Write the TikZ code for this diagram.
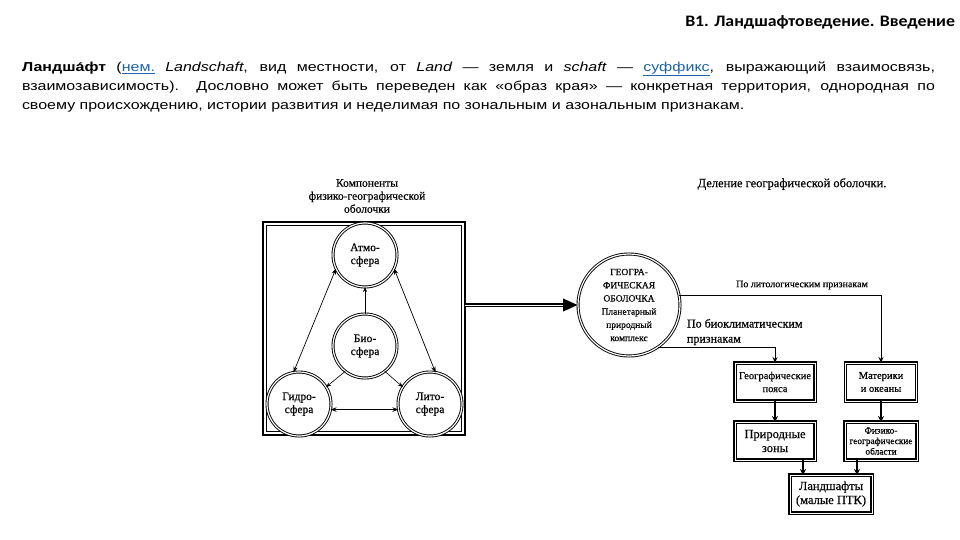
\documentclass[tikz,border=0pt]{standalone}
\usepackage{fontspec}
\setmainfont{Liberation Sans}
\newfontfamily\parafont[FakeStretch=1.23]{Liberation Sans}
\newfontfamily\titlefont[FakeStretch=1.11]{Carlito}
\newfontfamily\figfont[FakeBold=0.4]{Liberation Serif}
\usetikzlibrary{arrows.meta,calc}
\definecolor{linkblue}{RGB}{30,100,170}
\newcommand\jline[1]{\hbox to 913pt{#1}}
\newcommand\lnk[1]{\leavevmode\textcolor{linkblue}{\vtop{\hbox{#1}\kern0.8pt\hrule height0.7pt}}}
\begin{document}
\begin{tikzpicture}[x=1pt,y=-1pt,
  every node/.style={inner sep=0pt, outer sep=0pt},
  para/.style={anchor=base west, font=\parafont\fontsize{13}{15}\selectfont},
  fig/.style={font=\figfont\fontsize{11.5}{13}\selectfont, align=center},
  circ/.style={fig, circle, draw, fill=white, line width=0.9pt, double, double distance=1.2pt, minimum size=64pt},
  bigcirc/.style={fig, circle, draw, fill=white, line width=0.9pt, double, double distance=1.2pt, minimum size=102pt, font=\figfont\fontsize{9.5}{13.2}\selectfont},
  box/.style={fig, draw, fill=white, line width=1.2pt, double, double distance=1pt, minimum height=38pt},
  thin/.style={line width=0.7pt, {Stealth[length=6pt,width=4.5pt]}-{Stealth[length=6pt,width=4.5pt]}},
  onearrow/.style={line width=0.6pt, -{Stealth[length=5pt,width=4pt]}},
  conn/.style={line width=1pt, -{Stealth[length=6pt,width=5pt]}},
  boxarrow/.style={line width=1.8pt, -{Stealth[length=6pt,width=6pt]}},
  lbl/.style={font=\figfont\fontsize{10}{13}\selectfont}
]
\useasboundingbox (0,0) rectangle (960,540);
\fill[white] (0,0) rectangle (960,540);

% header
\node[anchor=base east, font=\titlefont\bfseries\fontsize{16}{18}\selectfont] (title) at (955,27) {B1. Ландшафтоведение. Введение};

% paragraph
\node[para] (p1) at (22,72) {\jline{\textbf{Ландша́фт} (\lnk{нем.} \textit{Landschaft}, вид местности, от \textit{Land} — земля и \textit{schaft} — \lnk{суффикс}, выражающий взаимосвязь,}};
\node[para] (p2) at (22,91) {\jline{взаимозависимость). Дословно может быть переведен как «образ края» — конкретная территория, однородная по}};
\node[para] (p3) at (22,110) {своему происхождению, истории развития и неделимая по зональным и азональным признакам.};

% left block
\node[fig] (comp) at (367,196) {Компоненты\\физико-географической\\оболочки};
\draw[line width=1.8pt] (263,222) rectangle (465,435);
\draw[line width=0.7pt] (266.5,225.5) rectangle (461.5,431.5);

\node[circ] (atmo) at (365,255) {Атмо-\\сфера};
\node[circ] (bio) at (365,346) {Био-\\сфера};
\node[circ] (hydro) at (299,404) {Гидро-\\сфера};
\node[circ] (lito) at (430,404) {Лито-\\сфера};

\draw[thin] (atmo.205) -- (hydro.100);
\draw[thin] (atmo.-25) -- (lito.80);
\draw[onearrow] (bio.north) -- (atmo.south);
\draw[onearrow] (bio.232) -- (hydro.32);
\draw[onearrow] (bio.-52) -- (lito.148);
\draw[thin, line width=1.4pt] (hydro.-10) -- (lito.190);

% geo
\node[bigcirc] (geo) at (629,305) {ГЕОГРА-\\ФИЧЕСКАЯ\\ОБОЛОЧКА\\Планетарный\\природный\\комплекс};
\coordinate (fr) at (465,305);
\draw[line width=3.6pt, -{Triangle[length=15pt,width=12pt]}] (fr) -- (geo.west);
\draw[white, line width=0.8pt, shorten >=15pt] (fr) -- (geo.west);

% right
\node[fig, font=\figfont\fontsize{12.5}{13}\selectfont] (del) at (792,184) {Деление географической оболочки.};

\node[box, minimum width=80pt, font=\figfont\fontsize{10.5}{13}\selectfont] (gz) at (775,382) {Географические\\пояса};
\node[box, minimum width=71pt, font=\figfont\fontsize{10.5}{13}\selectfont] (mat) at (881,382) {Материки\\и океаны};
\node[box, minimum width=80pt, font=\figfont\fontsize{12.5}{14}\selectfont] (pz) at (775,441) {Природные\\зоны};
\node[box, minimum width=72pt, font=\figfont\fontsize{9.3}{10.5}\selectfont] (fiz) at (881,441) {Физико-\\географические\\области};
\node[box, minimum width=82pt, font=\figfont\fontsize{12.5}{14}\selectfont] (land) at (831,494) {Ландшафты\\(малые ПТК)};

\draw[conn] (geo.11) -| (mat.north);
\draw[conn] (geo.-56) -| (gz.north);
\node[lbl] (l1) at (802,285) {По литологическим признакам};
\node[lbl, align=left, anchor=west, font=\figfont\fontsize{12}{15}\selectfont] (l2) at (687,332) {По биоклиматическим\\признакам};

\draw[boxarrow] (gz) -- (pz);
\draw[boxarrow] (mat) -- (fiz);
\draw[boxarrow] ([xshift=28pt]pz.south) -- ([xshift=28pt]pz.south |- land.north);
\draw[boxarrow] ([xshift=-24pt]fiz.south) -- ([xshift=-24pt]fiz.south |- land.north);
\end{tikzpicture}
\end{document}
